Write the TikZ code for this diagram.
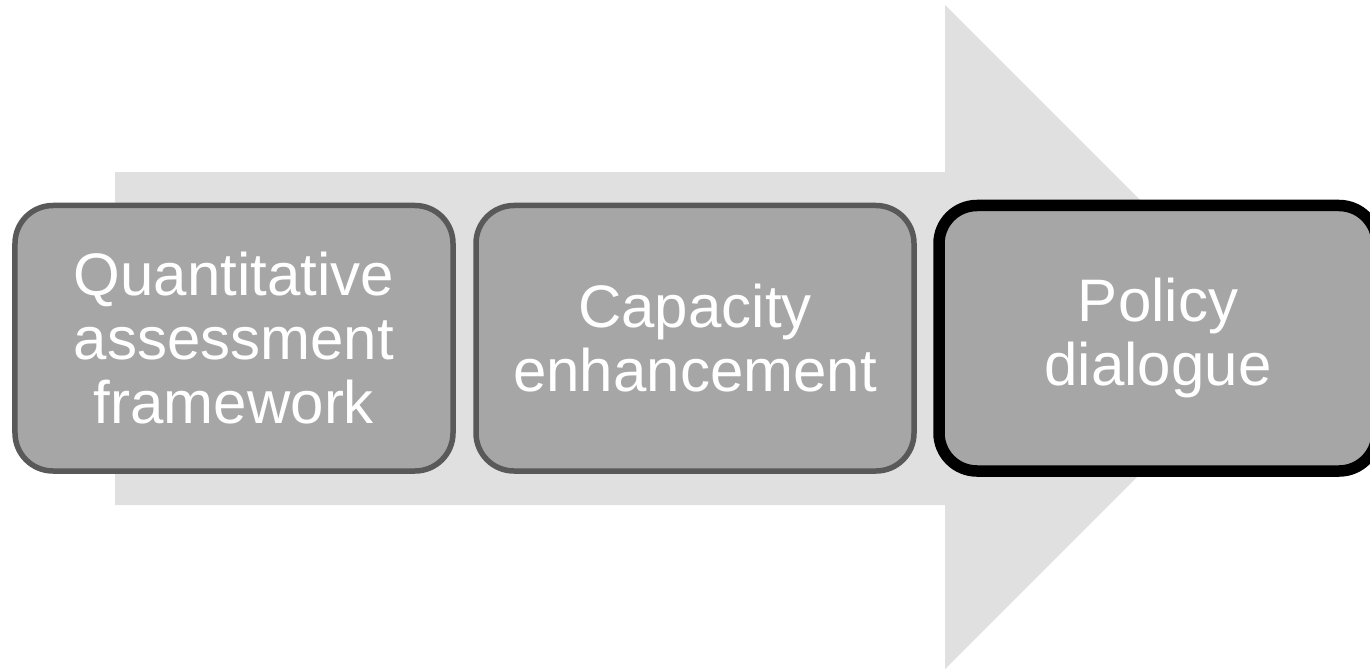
\documentclass[tikz,border=0pt]{standalone}
\usepackage{fontspec}
\setmainfont{Liberation Sans}
\definecolor{arrowgray}{HTML}{E0E0E0}
\definecolor{boxgray}{HTML}{A6A6A6}
\definecolor{edgegray}{HTML}{595959}
\tikzset{
  stepbox/.style={draw=edgegray, line width=5.5bp, fill=boxgray, rounded corners=38bp,
    minimum width=438bp, minimum height=265.5bp, text=white, align=center,
    font=\fontsize{60bp}{64bp}\selectfont, inner sep=0pt},
  lastbox/.style={stepbox, draw=black, line width=11.5bp}
}
\begin{document}
\begin{tikzpicture}[x=1bp,y=-1bp]
\useasboundingbox (0,0) rectangle (1370,669);
\fill[white] (0,0) rectangle (1370,669);
\fill[arrowgray] (115,172) -- (945,172) -- (945,5) -- (1277,337) -- (945,669) -- (945,505) -- (115,505) -- cycle;
\node[stepbox] (b1) at (234,338.25) {Quantitative\\assessment\\framework};
\node[stepbox] (b2) at (695,338.25) {Capacity\\enhancement};
\node[lastbox] (b3) at (1158,338.25) {Policy\\dialogue};
\end{tikzpicture}
\end{document}
